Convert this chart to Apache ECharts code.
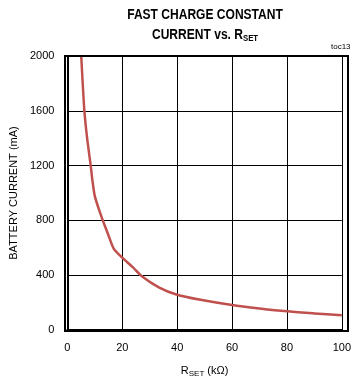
<!DOCTYPE html>
<html><head><meta charset="utf-8">
<script src="https://cdn.jsdelivr.net/npm/echarts@6/dist/echarts.min.js"></script>
<style>html,body{margin:0;padding:0;background:#fff}#c{width:354px;height:383px}</style>
</head><body><div id="c"></div>
<script>
var rset = [5.05, 6.2, 7.2, 8.5, 9.2, 10, 11.5, 13, 15, 17, 20, 24, 27, 33.5, 40, 48, 60, 70, 80, 90, 100];
var current = [2000, 1600, 1400, 1200, 1080, 977, 880, 795, 690, 590, 528, 455, 395, 310, 257, 222, 182, 157, 136, 121, 107];
var xTicks = [0, 20, 40, 60, 80, 100];
var yTicks = [0, 400, 800, 1200, 1600, 2000];

var FONT = '"Liberation Sans", Arial, sans-serif';
var chart = echarts.init(document.getElementById('c'), null, {renderer: 'canvas'});
chart.setOption({
  animation: false,
  backgroundColor: '#fff',
  title: [
    {text: 'toc13', left: 326, top: 38,
     textStyle: {fontFamily: FONT, fontSize: 8, fontWeight: 'normal', color: '#000'}}
  ],
  grid: {left: 65, top: 56, right: 6, bottom: 52, containLabel: false},
  xAxis: {
    type: 'value', min: 0, max: 100, interval: 20,
    axisLine: {show: true, onZero: false, lineStyle: {color: '#000', width: 2}},
    axisTick: {show: false},
    splitLine: {show: true, lineStyle: {color: '#000', width: 1}},
    axisLabel: {fontFamily: FONT, fontSize: 11, color: '#000', margin: 12,
      formatter: function(v){ return xTicks.indexOf(v) >= 0 ? String(v) : ''; }},
    name: '{a|R}{s|SET}{a| (kΩ)}', nameLocation: 'middle', nameGap: 34,
    nameTextStyle: {rich: {
      a: {fontFamily: FONT, fontSize: 11, color: '#000'},
      s: {fontFamily: FONT, fontSize: 8, color: '#000', padding: [6, 0, 0, 0]}
    }}
  },
  yAxis: {
    type: 'value', min: 0, max: 2000, interval: 400,
    axisLine: {show: true, onZero: false, lineStyle: {color: '#000', width: 2}},
    axisTick: {show: false},
    splitLine: {show: true, lineStyle: {color: '#000', width: 1}},
    axisLabel: {fontFamily: FONT, fontSize: 11, color: '#000', margin: 13,
      formatter: function(v){ return yTicks.indexOf(v) >= 0 ? String(v) : ''; }},
    name: 'BATTERY CURRENT (mA)', nameLocation: 'middle', nameGap: 46, nameRotate: 90,
    nameTextStyle: {fontFamily: FONT, fontSize: 11, color: '#000'}
  },
  graphic: [
    {type: 'rect', shape: {x: 65, y: 56, width: 283, height: 275}, z: 100,
     style: {fill: 'none', stroke: '#000', lineWidth: 2}},
    {type: 'text', x: 205, y: 15, scaleX: 0.86, z: 100,
     style: {text: 'FAST CHARGE CONSTANT', align: 'center', verticalAlign: 'middle',
       font: 'bold 14px ' + FONT, fill: '#000'}},
    {type: 'text', x: 205, y: 35, scaleX: 0.86, z: 100,
     style: {text: '{a|CURRENT vs. R}{s|SET}', align: 'center', verticalAlign: 'middle',
       rich: {
         a: {fontFamily: FONT, fontSize: 14, fontWeight: 'bold', fill: '#000'},
         s: {fontFamily: FONT, fontSize: 9, fontWeight: 'bold', fill: '#000', padding: [7, 0, 0, 0]}
       }}}
  ],
  series: [{
    type: 'line', showSymbol: false, smooth: 0.25,
    data: rset.map(function(r, i){ return [r, current[i]]; }),
    lineStyle: {color: '#c0504d', width: 2.5},
    z: 5
  }]
});
</script></body></html>
